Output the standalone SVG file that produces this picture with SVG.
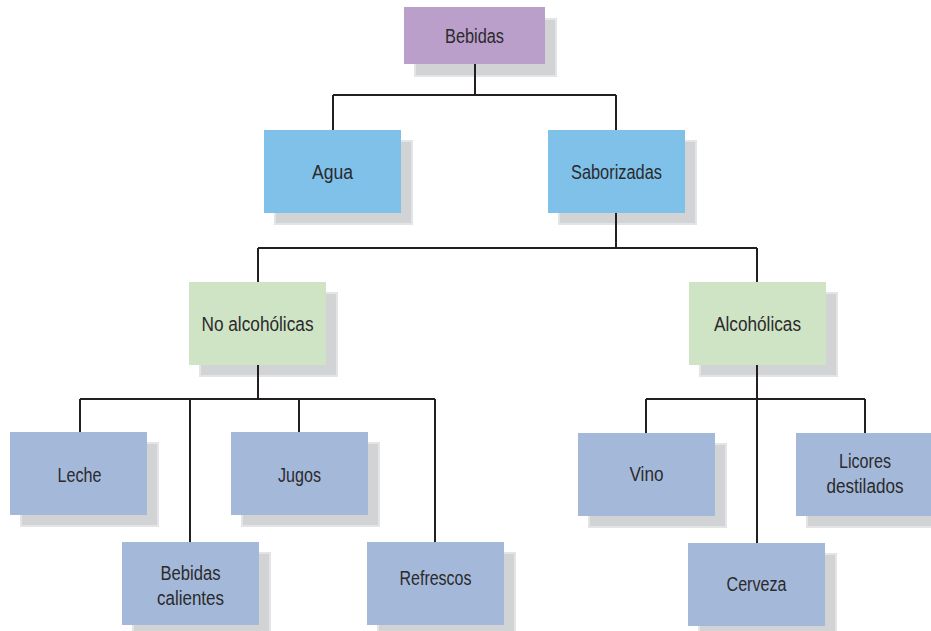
<svg xmlns="http://www.w3.org/2000/svg" width="931" height="631" viewBox="0 0 931 631">
<style>
.sh{fill:#d2d3d5;stroke:#e3e4e6;stroke-width:2}
.root{fill:#bb9fcb}
.l1{fill:#80c1ea}
.l2{fill:#cfe4c4}
.l3{fill:#a4b9da}
text{font-family:"Liberation Sans",Arial,sans-serif;font-size:20px;fill:#2b2a2c;text-anchor:middle}
.c{fill:none;stroke:#231f20;stroke-width:2}
</style>
<rect width="931" height="631" fill="#ffffff"/>
<g id="n-bebidas"><rect class="sh" x="415" y="19" width="141" height="57"/><rect class="root" x="404" y="7" width="141" height="57"/><text x="474.5" y="43" textLength="59" lengthAdjust="spacingAndGlyphs">Bebidas</text></g>
<g id="n-agua"><rect class="sh" x="275" y="141" width="137" height="83"/><rect class="l1" x="264" y="130" width="137" height="83"/><text x="332.5" y="179" textLength="41" lengthAdjust="spacingAndGlyphs">Agua</text></g>
<g id="n-saborizadas"><rect class="sh" x="559" y="141" width="137" height="83"/><rect class="l1" x="548" y="130" width="137" height="83"/><text x="616.5" y="179" textLength="91" lengthAdjust="spacingAndGlyphs">Saborizadas</text></g>
<g id="n-noalcoholicas"><rect class="sh" x="200" y="293" width="137" height="83"/><rect class="l2" x="189" y="282" width="137" height="83"/><text x="257.5" y="331" textLength="112" lengthAdjust="spacingAndGlyphs">No alcohólicas</text></g>
<g id="n-alcoholicas"><rect class="sh" x="700" y="293" width="137" height="83"/><rect class="l2" x="689" y="282" width="137" height="83"/><text x="757.5" y="331" textLength="87" lengthAdjust="spacingAndGlyphs">Alcohólicas</text></g>
<g id="n-leche"><rect class="sh" x="21" y="443" width="137" height="83"/><rect class="l3" x="10" y="432" width="137" height="83"/><text x="79.5" y="482" textLength="44" lengthAdjust="spacingAndGlyphs">Leche</text></g>
<g id="n-jugos"><rect class="sh" x="242" y="443" width="137" height="83"/><rect class="l3" x="231" y="432" width="137" height="83"/><text x="299.5" y="482" textLength="43" lengthAdjust="spacingAndGlyphs">Jugos</text></g>
<g id="n-calientes"><rect class="sh" x="133" y="553" width="137" height="83"/><rect class="l3" x="122" y="542" width="137" height="83"/><text x="190.5" y="580" textLength="60" lengthAdjust="spacingAndGlyphs">Bebidas</text><text x="190.5" y="605" textLength="67" lengthAdjust="spacingAndGlyphs">calientes</text></g>
<g id="n-refrescos"><rect class="sh" x="378" y="553" width="137" height="83"/><rect class="l3" x="367" y="542" width="137" height="83"/><text x="435.5" y="585" textLength="72" lengthAdjust="spacingAndGlyphs">Refrescos</text></g>
<g id="n-vino"><rect class="sh" x="589" y="444" width="137" height="83"/><rect class="l3" x="578" y="433" width="137" height="83"/><text x="646.5" y="481" textLength="34" lengthAdjust="spacingAndGlyphs">Vino</text></g>
<g id="n-licores"><rect class="sh" x="807" y="444" width="137" height="83"/><rect class="l3" x="796" y="433" width="137" height="83"/><text x="865" y="468" textLength="52" lengthAdjust="spacingAndGlyphs">Licores</text><text x="865" y="493" textLength="77" lengthAdjust="spacingAndGlyphs">destilados</text></g>
<g id="n-cerveza"><rect class="sh" x="699" y="554" width="137" height="83"/><rect class="l3" x="688" y="543" width="137" height="83"/><text x="756.5" y="591" textLength="60" lengthAdjust="spacingAndGlyphs">Cerveza</text></g>
<g id="connectors">
<path class="c" d="M475 64V95M333 95H616M333 95V130M616 95V130"/>
<path class="c" d="M616 213V248M258 248H757M258 248V282M757 248V282"/>
<path class="c" d="M258 365V399M80 399H435M80 399V432M190 399V542M299 399V432M435 399V542"/>
<path class="c" d="M757 365V543M646 399H865M646 399V433M865 399V433"/>
</g>
</svg>
